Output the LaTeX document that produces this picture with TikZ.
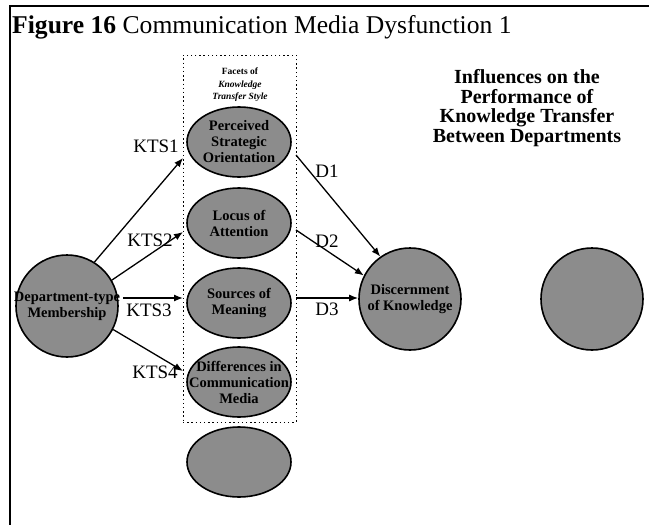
\documentclass[tikz,border=0pt]{standalone}
\usepackage{fontspec}
\setmainfont{Liberation Serif}
\usetikzlibrary{arrows.meta,shapes.geometric}
\begin{document}
\begin{tikzpicture}[x=1pt,y=-1pt,
  blob/.style={draw=black, line width=1.6pt, fill=black!45,
    font=\fontsize{14.5}{16}\selectfont\bfseries, align=center},
  facet/.style={blob, ellipse, inner xsep=-18pt, inner ysep=-8pt,
    minimum width=104pt, minimum height=70pt},
  ball/.style={blob, circle, inner sep=-14pt, minimum size=102pt},
  arr/.style={line width=1.3pt, -{Latex[length=9pt,width=7pt]}},
  lbl/.style={font=\fontsize{19}{20}\selectfont, inner sep=0pt},
  frameline/.style={line width=2.2pt},
  groupbox/.style={draw, line width=1pt, dash pattern=on 1.4pt off 2.8pt,
    minimum width=113pt, minimum height=367pt, inner sep=0pt},
]
\path[use as bounding box, fill=white] (0,0) rectangle (649,525);

% page frame
\draw[frameline] (10,525) -- (10,6) -- (649,6);

% title
\node[anchor=base west, inner sep=0pt, font=\fontsize{25.6}{30}\selectfont]
  (title) at (12,33) {\textbf{Figure 16} Communication Media Dysfunction 1};

% heading on the right
\node[align=center, inner sep=0pt, font=\fontsize{20}{19.7}\selectfont\bfseries]
  (heading) at (527,108) {Influences on the\\Performance of\\Knowledge Transfer\\Between Departments};

% group of facets
\node[groupbox] (group) at (239.5,238.5) {};
\node[align=center, inner sep=0pt, font=\fontsize{9.5}{12.5}\selectfont\bfseries]
  (facetstitle) at (240,85) {Facets of\\\textit{Knowledge}\\\textit{Transfer Style}};

\node[facet] (pso) at (239,142) {Perceived\\Strategic\\Orientation};
\node[facet] (loa) at (239,223) {Locus of\\Attention};
\node[facet] (som) at (239,303) {Sources of\\Meaning};
\node[facet] (dcm) at (239,382) {Differences in\\Communication\\Media};
\node[facet] (extra) at (239,462) {};

% outer variables
\node[ball] (dept) at (67,306) {Department-type\\Membership};
\node[ball] (disc) at (410,299) {Discernment\\of Knowledge};
\node[ball] (other) at (592,299) {};

% arrow ends on the group border
\coordinate (k1) at (183,158);
\coordinate (k2) at (183,232);
\coordinate (k3) at (183,298);
\coordinate (k4) at (183,371);
\coordinate (d1) at (296,155);
\coordinate (d2) at (296,230);
\coordinate (d3) at (296,298);

\draw[arr] (dept.58) -- (k1);
\draw[arr] (dept.30) -- (k2);
\draw[arr] (dept.east |- k3) ++(4,0) -- (k3);
\draw[arr] (dept.-27) -- (k4);

\draw[arr] (d1) -- (disc.125);
\draw[arr] (d2) -- (disc.153);
\draw[arr] (d3) -- (disc.west |- d3);

% connector labels
\node[lbl] (l1) at (156,146) {KTS1};
\node[lbl] (l2) at (150,240) {KTS2};
\node[lbl] (l3) at (149,310) {KTS3};
\node[lbl] (l4) at (155,372) {KTS4};
\node[lbl] (l5) at (327,171) {D1};
\node[lbl] (l6) at (327,241) {D2};
\node[lbl] (l7) at (327,309) {D3};
\end{tikzpicture}
\end{document}
